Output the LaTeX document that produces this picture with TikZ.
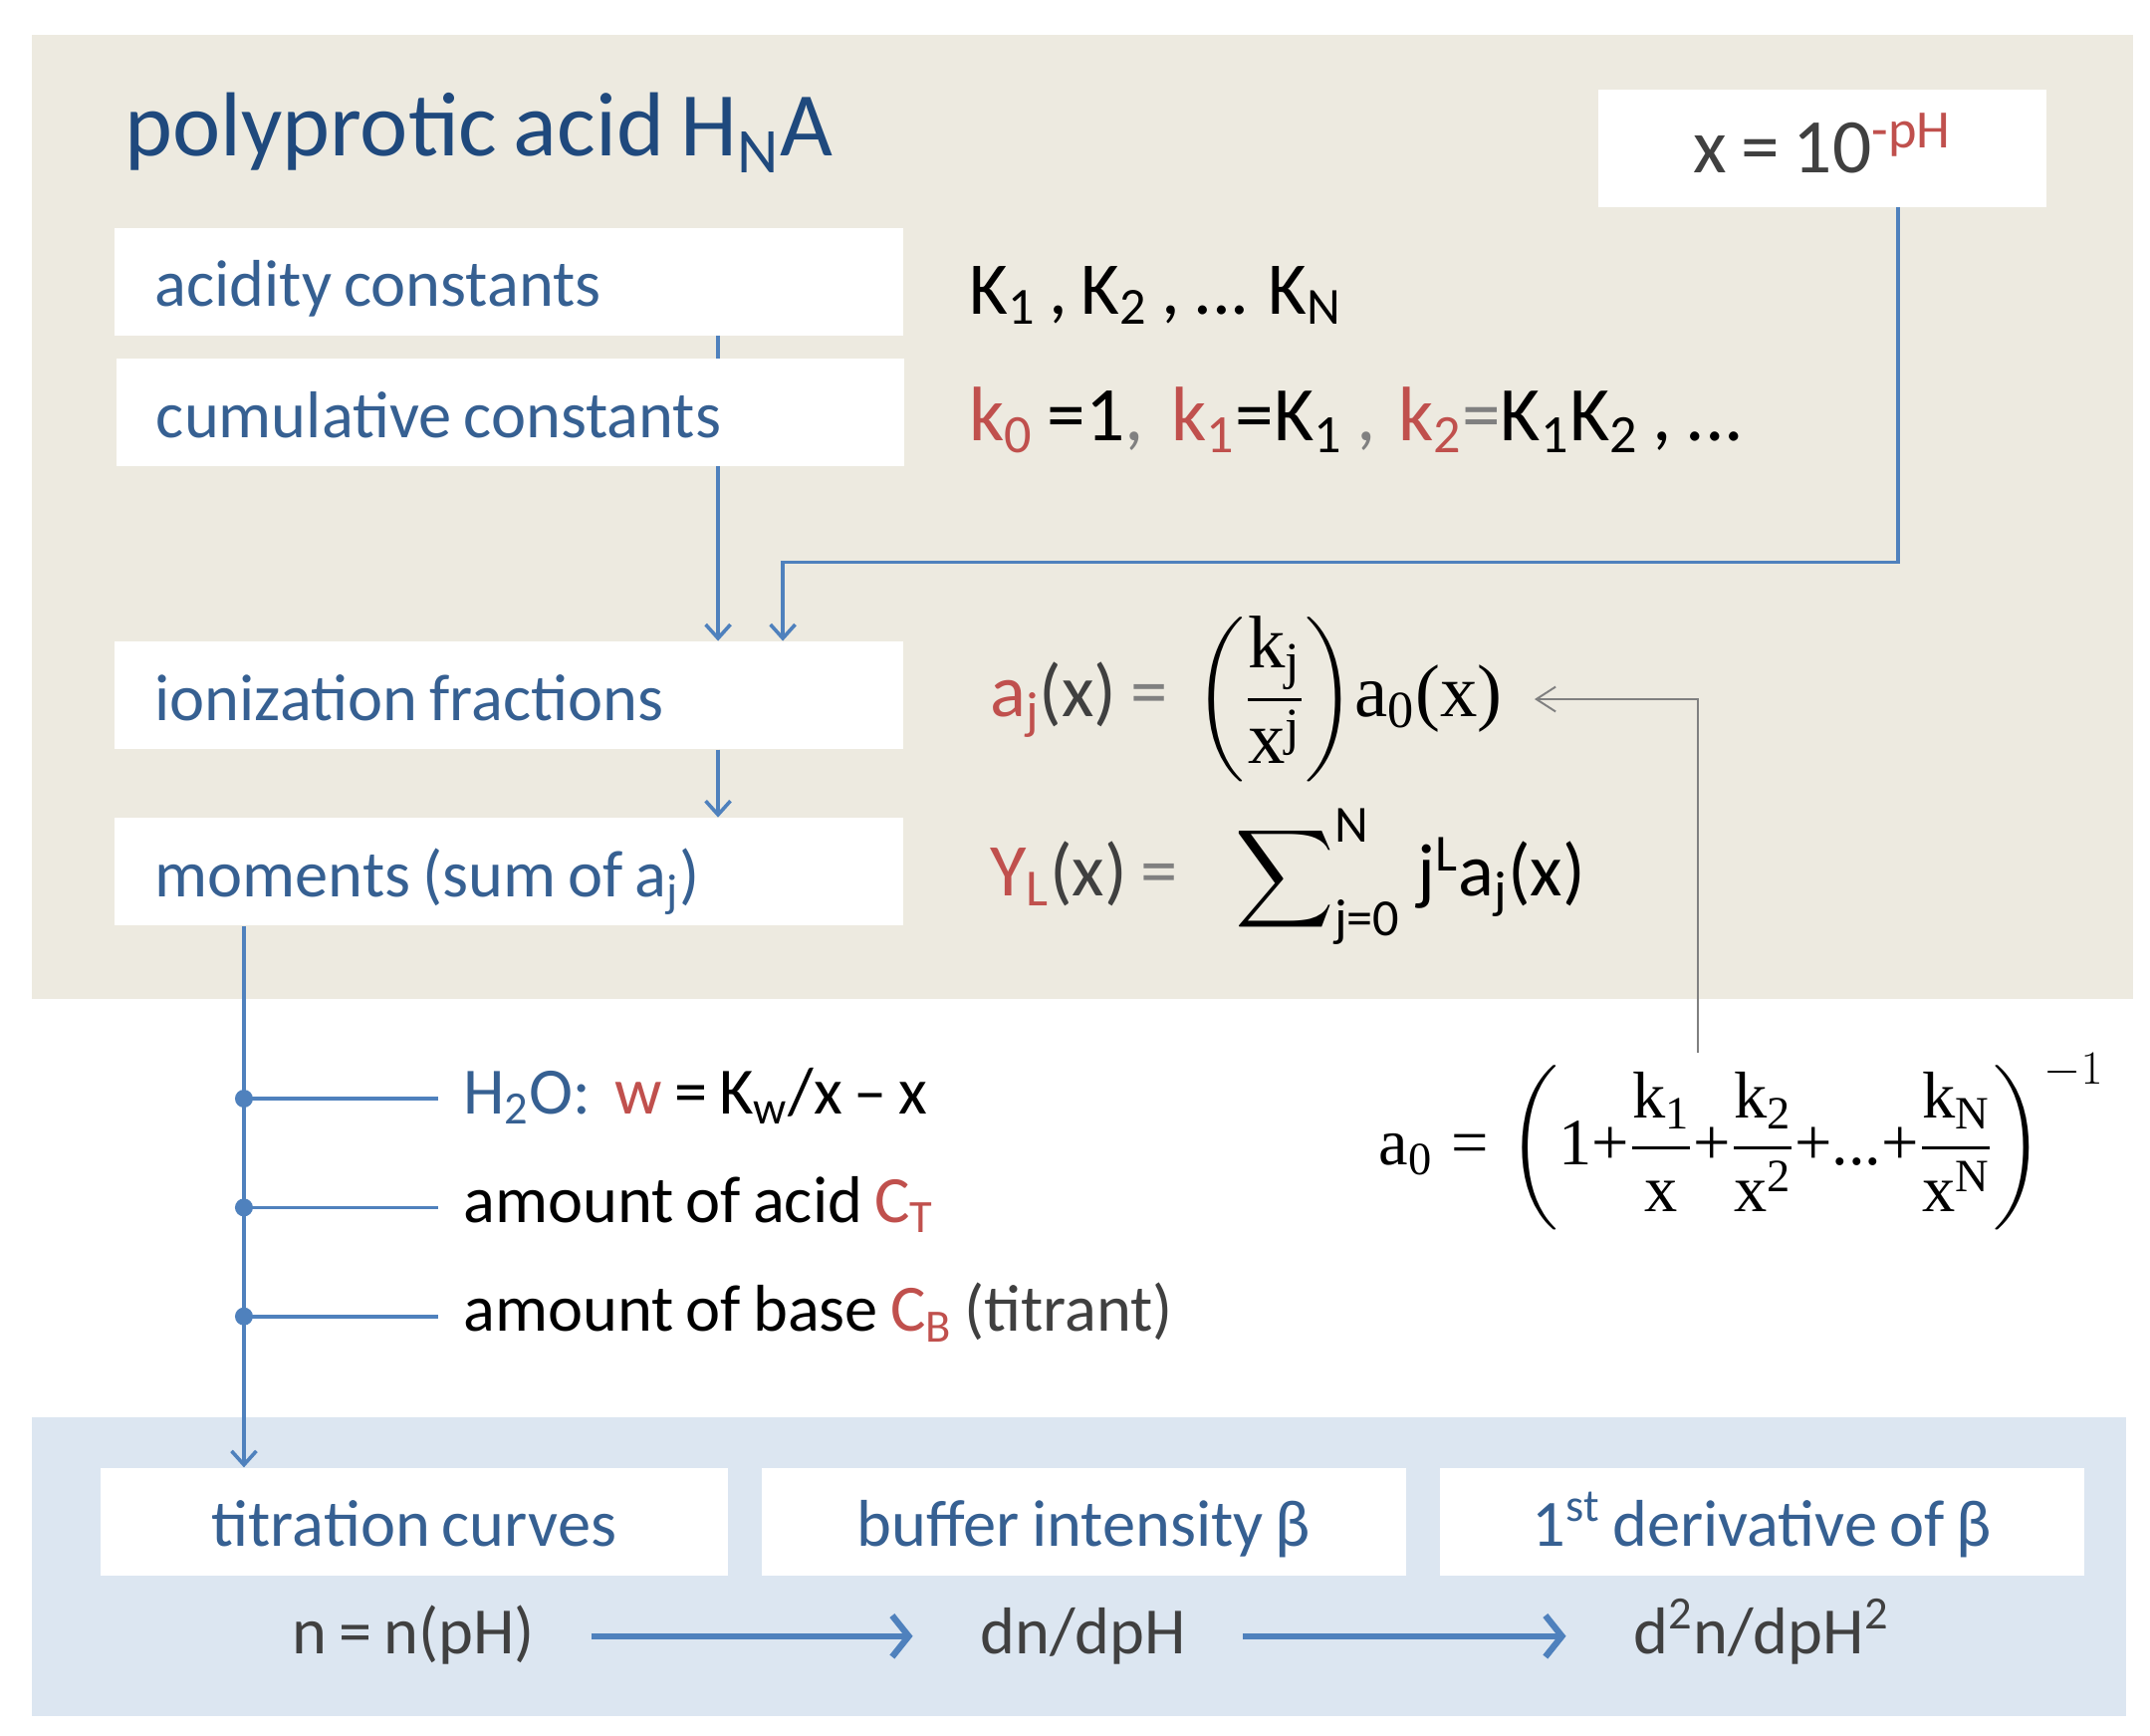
\documentclass[tikz,border=0pt]{standalone}
\usepackage{amsmath}
\usepackage{fontspec}
\setmainfont[WordSpace=0.8]{Carlito}
\newfontfamily\tms{Liberation Serif}
\usetikzlibrary{arrows.meta}
\newcommand{\tm}[1]{\text{\tms #1}}
\newcommand{\rk}[1]{{\color{rd}k\textsubscript{#1}}}
\definecolor{beige}{RGB}{237,234,224}
\definecolor{paleblue}{RGB}{220,230,241}
\definecolor{ttlblue}{RGB}{31,73,125}
\definecolor{lblblue}{RGB}{54,96,146}
\definecolor{lnblue}{RGB}{79,129,189}
\definecolor{rd}{RGB}{192,80,77}
\definecolor{dgray}{RGB}{64,64,64}
\definecolor{mgray}{RGB}{128,128,128}
\tikzset{
  lbox/.style={fill=white, anchor=north west, minimum height=39pt, inner xsep=14.5pt, text width=257pt, text height=23.5pt, text depth=5.5pt, align=flush left, text=lblblue, font=\fontsize{24}{28}\selectfont},
  cbox/.style={fill=white, minimum height=39pt, text height=23.5pt, text depth=5.5pt, align=center, text=lblblue, font=\fontsize{24}{28}\selectfont},
  fml/.style={anchor=base west, inner sep=0pt, font=\fontsize{27}{32}\selectfont},
  branchtxt/.style={anchor=west, inner xsep=9pt, text height=17pt, text depth=6pt, font=\fontsize{24}{28}\selectfont},
  bottxt/.style={text=dgray, text height=18pt, text depth=5pt, font=\fontsize{24}{28}\selectfont},
  flow/.style={draw=lnblue, line width=1.3pt, -{Straight Barb[length=5pt,width=9pt]}},
  trunk line/.style={draw=lnblue, line width=1.3pt},
  dot/.style={circle, fill=lnblue, inner sep=0pt, minimum size=6.5pt},
  garrow/.style={draw=mgray, line width=0.7pt, -{Straight Barb[length=7pt,width=9pt]}},
  bigarrow/.style={draw=lnblue, line width=2.3pt, -{Straight Barb[length=6pt,width=15pt]}},
}
\begin{document}
\begin{tikzpicture}[x=0.5pt,y=0.5pt,yscale=-1,xscale=1]
\useasboundingbox (0,0) rectangle (1560,1259);

%Shape: Rectangle [beige panel]
\fill[beige] (23,25) rectangle (1548,725);
%Shape: Rectangle [blue panel]
\fill[paleblue] (23,1028) rectangle (1543,1245);

% Text Node
\node[anchor=base west, inner sep=0pt, text=ttlblue, font=\fontsize{33}{38}\selectfont] (title) at (90,113) {polyprotic acid H\textsubscript{N}A};

%Shape: Rectangle
\node[lbox] (acid) at (83,165) {acidity constants};
\node[lbox] (ion) at (83,465) {ionization fractions};
\node[lbox] (mom) at (83,593) {moments (sum of a\textsubscript{j})};
\node[cbox, minimum width=162.5pt, minimum height=42.5pt, text height=26pt, text depth=8.5pt, text=dgray, font=\fontsize{28}{32}\selectfont] (ph) at (1322.5,107.5) {x = 10\textsuperscript{\color{rd}-pH}};

\coordinate (stem) at (521,0);
\coordinate (bend) at (568,408);
\coordinate (phdrop) at (1377,0);
\coordinate (trunk) at (177,0);
\coordinate (gx) at (1232,0);

%Straight Lines
\draw[flow] (acid.south -| stem) -- (ion.north -| stem);
\node[lbox] (cum) at (84,260) {cumulative constants};
%Straight Lines
\draw[flow] (ph.south -| phdrop) |- (bend) -- (ion.north -| bend);
%Straight Lines
\draw[flow] (ion.south -| stem) -- (mom.north -| stem);

% Text Node
\node[fml] (Kl) at (703,228) {K\textsubscript{1} , K\textsubscript{2} , ... K\textsubscript{N}};
% Text Node
\node[fml, font=\fontsize{28}{32}\selectfont] (kl) at (703,320) {\rk{0} =1{\color{mgray},}\hspace{5pt} \rk{1}=K\textsubscript{1} {\color{mgray},}\hspace{3pt} \rk{2}{\color{mgray}=}K\textsubscript{1}K\textsubscript{2} , ...};
% Text Node
\node[fml] (aj) at (718,520) {{\color{rd}a\textsubscript{j}}{\color{dgray}(x)} {\color{mgray}=} \ ${\left(\dfrac{\tm{k}_{\tm{j}}}{\tm{x}^{\tm{j}}}\right)}\tm{a}_{\tm{0}}\tm{(x)}$};
% Text Node
\node[fml] (YL) at (718,650) {{\color{rd}Y\textsubscript{L}}{\color{dgray}(x)} {\color{mgray}=}\hspace{21pt}$\displaystyle\sum\nolimits_{\text{j=0}}^{\text{N}}$\hspace{6pt}j\textsuperscript{L}a\textsubscript{j}(x)};
% Text Node
\node[fml, font=\fontsize{24}{28}\selectfont] (a0) at (1000,845) {$\tm{a}_{\tm{0}} \mathrel{\tm{=}} \left(\tm{1}\tm{+}\dfrac{\tm{k}_{\tm{1}}}{\tm{x}}\tm{+}\dfrac{\tm{k}_{\tm{2}}}{\tm{x}^{\tm{2}}}\tm{+...+}\dfrac{\tm{k}_{\tm{N}}}{\tm{x}^{\tm{N}}}\right)^{-1}$};

%Straight Lines
\draw[garrow] (a0.north -| gx) |- ([xshift=11.5pt]aj.east);

% Text Node
\node[branchtxt] (h2o) at (318,797) {{\color{lblblue}H\textsubscript{2}O:}\ \ {\color{rd}w} = K\textsubscript{w}/x – x};
\node[branchtxt] (acamt) at (318,876) {amount of acid {\color{rd}C\textsubscript{T}}};
\node[branchtxt] (bsamt) at (318,955) {amount of base {\color{rd}C\textsubscript{B}} {\color{dgray}(titrant)}};

%Shape: Rectangle
\node[cbox, minimum width=227.5pt] (titr) at (300.5,1104) {titration curves};
\node[cbox, minimum width=233.5pt] (buff) at (786.5,1104) {buffer intensity β};
\node[cbox, minimum width=233.5pt] (deriv) at (1278.5,1104) {1\textsuperscript{st} derivative of β};

%Straight Lines
\draw[flow] (mom.south -| trunk) -- (titr.north -| trunk);
\foreach \b in {h2o,acamt,bsamt}{
  \draw[trunk line] (\b.west -| trunk) -- (\b.west);
  \node[dot] (dot-\b) at (\b.west -| trunk) {};
}

% Text Node
\node[bottxt] (nph) at (300,1187) {n = n(pH)};
\node[bottxt] (dn) at (786,1187) {dn/dpH};
\node[bottxt] (d2n) at (1278,1187) {d\textsuperscript{2}n/dpH\textsuperscript{2}};
%Straight Lines
\draw[bigarrow, shorten <=17pt, shorten >=21pt] (nph) -- (dn);
\draw[bigarrow, shorten <=17pt, shorten >=21pt] (dn) -- (d2n);

\end{tikzpicture}
\end{document}
